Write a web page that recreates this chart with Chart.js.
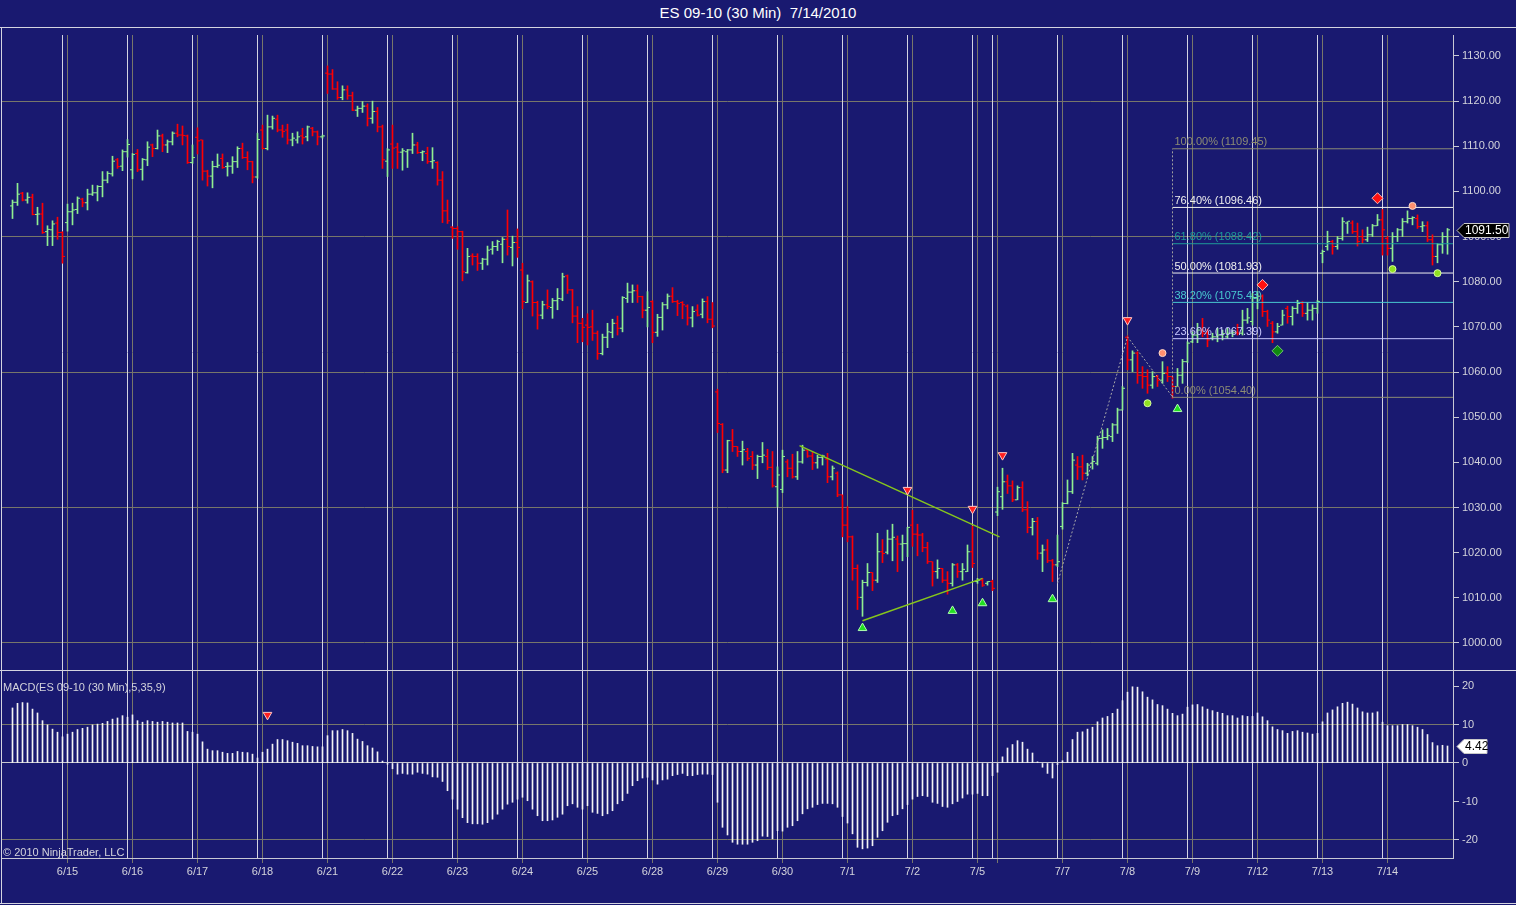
<!DOCTYPE html>
<html>
<head>
<meta charset="utf-8">
<title>ES 09-10 (30 Min) 7/14/2010</title>
<script src="https://cdn.jsdelivr.net/npm/chart.js@4.4.1/dist/chart.umd.min.js"></script>
<style>
  html, body { margin: 0; padding: 0; background: #191970; }
  #frame { position: relative; width: 1516px; height: 905px; background: #191970; overflow: hidden;
           font-family: "Liberation Sans", Arial, sans-serif; }
  #title { position: absolute; left: 0; top: 0; width: 1516px; height: 27px; line-height: 26px;
           text-align: center; color: #ffffff; font-size: 15px; white-space: pre; }
  .hline { position: absolute; left: 0; width: 1516px; height: 1px; background: #d4d4e0; }
  .vline { position: absolute; top: 27px; left: 1px; width: 1px; height: 877px; background: #d4d4e0; }
  #price { position: absolute; left: 0; top: 28px; }
  #macd { position: absolute; left: 0; top: 671px; }
  .note { position: absolute; left: 3px; color: #d4d4dc; font-size: 11px; white-space: pre; }
</style>
</head>
<body>
<div id="frame">
  <div id="title">ES 09-10 (30 Min)  7/14/2010</div>
  <div class="hline" style="top:27px"></div>
  <canvas id="price" width="1516" height="642"></canvas>
  <div class="hline" style="top:670px"></div>
  <canvas id="macd" width="1516" height="231"></canvas>
  <div class="hline" style="top:903px"></div>
  <div class="vline"></div>
  <div class="note" style="top:681px">MACD(ES 09-10 (30 Min),5,35,9)</div>
  <div class="note" style="top:846px">© 2010 NinjaTrader, LLC</div>
</div>
<script>
// ---- data: 30 min bars, index 0 = first bar on screen ----
const dayStart = [11, 24, 37, 50, 63, 76, 89, 102, 115, 128, 141, 154, 167, 180, 193, 197, 210, 223, 236, 249, 262, 275];
const dayLabel = ['6/15', '6/16', '6/17', '6/18', '6/21', '6/22', '6/23', '6/24', '6/25', '6/28', '6/29',
                  '6/30', '7/1', '7/2', '7/5', '', '7/7', '7/8', '7/9', '7/12', '7/13', '7/14'];
const priceTicks = [1000, 1010, 1020, 1030, 1040, 1050, 1060, 1070, 1080, 1090, 1100, 1110, 1120, 1130];
const macdTicks = [-20, -10, 0, 10, 20];

const opens = [
  1096.8, 1097.6, 1099.6, 1098.1, 1098.7, 1094.9, 1095.0, 1091.1, 1091.5, 1093.0,
  1090.9, 1093.1, 1095.5, 1096.0, 1098.3, 1097.5, 1099.4, 1099.7, 1101.1, 1102.5,
  1103.9, 1107.0, 1105.6, 1108.8, 1104.8, 1108.4, 1104.9, 1107.0, 1110.3, 1109.5,
  1112.3, 1110.3, 1111.0, 1112.9, 1112.5, 1112.3, 1106.4, 1112.0, 1111.4, 1104.5,
  1103.4, 1105.5, 1107.3, 1105.5, 1105.6, 1106.6, 1109.5, 1107.5, 1106.6, 1103.2,
  1113.6, 1109.5, 1114.3, 1116.0, 1113.6, 1113.6, 1111.4, 1111.4, 1112.3, 1112.1,
  1114.0, 1113.2, 1112.1, 1126.2, 1126.0, 1122.7, 1120.8, 1122.5, 1121.2, 1118.0,
  1118.4, 1118.9, 1116.2, 1117.7, 1114.3, 1106.7, 1110.5, 1109.8, 1108.7, 1108.8,
  1109.2, 1110.3, 1108.6, 1108.4, 1106.6, 1106.4, 1102.5, 1095.7, 1092.1, 1091.8,
  1091.1, 1082.0, 1085.7, 1085.6, 1084.1, 1085.0, 1087.2, 1087.8, 1088.3, 1089.4,
  1087.6, 1088.7, 1082.6, 1075.4, 1080.0, 1075.4, 1072.6, 1074.9, 1074.3, 1075.8,
  1076.2, 1081.3, 1078.2, 1072.4, 1070.8, 1070.4, 1070.0, 1068.6, 1064.1, 1067.7,
  1068.8, 1070.8, 1069.7, 1076.3, 1077.7, 1078.0, 1076.7, 1073.7, 1075.6, 1068.8,
  1072.1, 1074.9, 1076.8, 1075.6, 1075.4, 1074.6, 1072.0, 1073.7, 1072.8, 1075.6,
  1071.7, 1055.6, 1048.4, 1038.3, 1044.8, 1043.5, 1042.4, 1042.4, 1041.3, 1039.4,
  1041.3, 1041.3, 1038.9, 1034.6, 1034.0, 1040.1, 1038.7, 1036.8, 1040.1, 1042.7,
  1041.4, 1039.9, 1041.1, 1040.7, 1036.8, 1037.6, 1032.8, 1026.1, 1023.5, 1016.5,
  1010.1, 1013.4, 1015.6, 1013.9, 1020.2, 1020.1, 1023.0, 1023.0, 1021.9, 1022.0,
  1026.1, 1024.1, 1023.9, 1021.1, 1018.0, 1015.8, 1016.5, 1013.9, 1013.2, 1017.3,
  1015.8, 1015.8, 1020.2, 1013.6, 1013.9, 1013.2, 1013.6, 1029.0, 1032.4, 1035.7,
  1034.8, 1031.7, 1034.4, 1029.5, 1025.6, 1026.9, 1019.9, 1020.6, 1018.2, 1017.3,
  1025.8, 1030.9, 1033.5, 1039.4, 1039.0, 1037.6, 1039.8, 1039.8, 1045.3, 1045.5,
  1045.7, 1048.3, 1051.6, 1067.7, 1062.7, 1064.2, 1059.3, 1059.0, 1057.1, 1059.0,
  1058.2, 1059.7, 1059.0, 1056.8, 1059.3, 1062.3, 1066.7, 1068.2, 1069.3, 1068.6,
  1067.5, 1067.8, 1068.2, 1067.8, 1068.6, 1068.7, 1068.6, 1071.5, 1071.2, 1076.5,
  1076.8, 1073.4, 1070.8, 1068.9, 1070.4, 1074.1, 1072.3, 1074.1, 1075.2, 1073.0,
  1073.7, 1074.1, 1086.3, 1087.8, 1088.9, 1087.8, 1089.6, 1093.0, 1093.0, 1091.1,
  1090.0, 1089.3, 1090.4, 1092.4, 1093.7, 1089.6, 1087.4, 1090.0, 1091.5, 1093.3,
  1094.0, 1094.0, 1092.2, 1092.4, 1089.3, 1085.6, 1088.2, 1090.0
];
const highs = [
  1098.1, 1101.8, 1099.8, 1099.7, 1099.4, 1096.5, 1097.4, 1092.4, 1093.5, 1094.3,
  1091.1, 1097.2, 1097.4, 1098.8, 1098.5, 1100.5, 1101.4, 1101.3, 1104.4, 1104.4,
  1107.8, 1107.3, 1109.2, 1111.5, 1108.4, 1109.3, 1107.3, 1111.0, 1110.5, 1113.6,
  1112.7, 1111.4, 1113.2, 1114.9, 1114.5, 1112.5, 1110.3, 1114.1, 1111.4, 1104.7,
  1106.7, 1108.3, 1108.3, 1106.4, 1107.7, 1109.9, 1110.7, 1108.8, 1106.7, 1112.9,
  1114.7, 1116.9, 1116.7, 1116.9, 1114.7, 1114.9, 1112.9, 1113.2, 1114.0, 1114.5,
  1114.2, 1113.4, 1112.5, 1127.8, 1127.0, 1124.3, 1123.4, 1123.4, 1122.0, 1118.9,
  1119.9, 1119.4, 1120.0, 1118.6, 1114.7, 1109.5, 1114.7, 1110.7, 1109.5, 1109.3,
  1112.9, 1110.9, 1109.0, 1109.8, 1109.7, 1106.6, 1104.4, 1098.1, 1092.2, 1092.2,
  1091.2, 1087.4, 1086.2, 1086.2, 1085.2, 1087.9, 1088.9, 1089.2, 1089.8, 1095.9,
  1090.1, 1091.7, 1084.1, 1081.5, 1080.2, 1075.7, 1075.7, 1078.2, 1076.3, 1078.5,
  1081.9, 1081.5, 1078.3, 1074.5, 1071.9, 1072.9, 1073.7, 1069.1, 1068.4, 1070.8,
  1071.7, 1072.4, 1076.7, 1079.7, 1079.3, 1079.3, 1076.8, 1077.8, 1075.8, 1072.8,
  1075.4, 1077.3, 1078.7, 1075.9, 1075.6, 1074.9, 1074.5, 1074.9, 1076.2, 1076.7,
  1075.4, 1056.2, 1048.6, 1044.9, 1047.3, 1043.5, 1044.7, 1043.1, 1042.4, 1041.6,
  1044.4, 1042.9, 1042.4, 1039.0, 1042.7, 1040.6, 1041.8, 1042.4, 1043.8, 1042.7,
  1042.4, 1041.6, 1041.6, 1042.0, 1039.2, 1037.9, 1032.8, 1030.2, 1023.7, 1017.3,
  1013.9, 1017.6, 1015.6, 1024.3, 1022.9, 1025.0, 1026.3, 1023.7, 1023.9, 1025.6,
  1029.4, 1026.3, 1024.3, 1022.3, 1018.0, 1018.4, 1016.5, 1015.8, 1017.6, 1017.6,
  1017.6, 1021.7, 1025.9, 1014.3, 1014.3, 1013.6, 1013.9, 1034.5, 1038.7, 1037.2,
  1035.9, 1034.8, 1035.7, 1031.3, 1027.6, 1027.8, 1021.7, 1022.9, 1018.5, 1023.9,
  1031.1, 1036.1, 1042.0, 1041.3, 1041.6, 1039.8, 1041.3, 1045.8, 1047.2, 1047.5,
  1048.6, 1052.0, 1056.8, 1068.0, 1064.7, 1064.5, 1061.2, 1060.5, 1060.1, 1059.3,
  1062.3, 1061.2, 1059.0, 1060.8, 1062.8, 1066.7, 1068.9, 1070.8, 1071.9, 1069.5,
  1068.6, 1069.7, 1069.3, 1069.7, 1069.3, 1070.6, 1073.7, 1074.1, 1077.4, 1077.8,
  1077.1, 1073.7, 1071.2, 1070.8, 1073.7, 1074.6, 1074.5, 1075.9, 1075.6, 1075.4,
  1074.9, 1075.9, 1087.0, 1091.2, 1089.2, 1090.0, 1094.2, 1093.3, 1093.5, 1093.0,
  1091.5, 1092.1, 1092.7, 1094.9, 1096.0, 1090.0, 1090.9, 1091.8, 1094.0, 1095.7,
  1094.4, 1094.8, 1093.3, 1093.3, 1090.4, 1088.5, 1090.9, 1091.8
];
const lows = [
  1094.0, 1096.9, 1097.9, 1097.4, 1094.8, 1092.6, 1090.7, 1088.0, 1088.0, 1089.4,
  1084.1, 1091.2, 1092.6, 1095.1, 1096.6, 1095.9, 1099.1, 1097.9, 1098.8, 1101.9,
  1103.4, 1105.1, 1104.6, 1107.6, 1102.8, 1104.4, 1102.5, 1105.7, 1107.7, 1109.4,
  1108.8, 1108.6, 1110.3, 1112.1, 1110.3, 1106.2, 1106.2, 1108.3, 1102.5, 1101.2,
  1100.8, 1105.3, 1105.1, 1103.4, 1104.0, 1105.3, 1107.3, 1104.8, 1101.9, 1102.9,
  1109.4, 1109.2, 1113.8, 1113.2, 1112.0, 1110.5, 1110.1, 1110.7, 1110.5, 1111.2,
  1112.3, 1110.3, 1111.8, 1121.7, 1122.6, 1120.4, 1120.3, 1120.4, 1117.9, 1116.6,
  1117.5, 1114.5, 1115.1, 1113.2, 1105.1, 1103.3, 1105.1, 1105.1, 1104.7, 1105.3,
  1108.4, 1108.4, 1106.8, 1106.2, 1105.1, 1101.4, 1093.1, 1092.9, 1089.6, 1087.2,
  1080.2, 1081.9, 1083.7, 1082.5, 1082.7, 1083.7, 1086.1, 1086.9, 1084.2, 1085.9,
  1083.5, 1085.4, 1074.0, 1075.4, 1072.4, 1069.5, 1071.8, 1074.0, 1071.9, 1073.8,
  1075.8, 1077.4, 1070.9, 1066.5, 1066.7, 1066.0, 1067.0, 1062.8, 1063.8, 1065.4,
  1067.6, 1068.2, 1068.9, 1075.4, 1075.4, 1075.4, 1072.0, 1070.0, 1066.5, 1067.9,
  1069.3, 1074.0, 1075.4, 1072.5, 1071.8, 1070.4, 1070.0, 1072.4, 1072.0, 1070.9,
  1069.8, 1046.6, 1037.7, 1037.7, 1042.4, 1041.3, 1039.4, 1040.4, 1038.4, 1036.4,
  1039.9, 1038.4, 1034.5, 1030.2, 1033.3, 1036.8, 1036.5, 1036.2, 1039.8, 1041.1,
  1038.4, 1038.7, 1039.4, 1035.5, 1036.1, 1032.4, 1023.5, 1022.4, 1013.9, 1007.4,
  1005.9, 1012.6, 1011.6, 1013.4, 1017.8, 1019.7, 1018.2, 1015.8, 1018.2, 1019.1,
  1021.4, 1019.3, 1020.2, 1017.6, 1012.6, 1014.3, 1013.4, 1010.8, 1012.6, 1014.5,
  1013.9, 1015.8, 1016.7, 1013.2, 1012.5, 1012.8, 1011.6, 1028.2, 1029.6, 1033.1,
  1031.3, 1031.7, 1029.1, 1024.4, 1023.9, 1018.5, 1015.8, 1017.8, 1013.6, 1016.9,
  1025.2, 1030.8, 1033.1, 1036.2, 1036.1, 1037.0, 1038.5, 1039.4, 1043.1, 1045.0,
  1044.6, 1046.4, 1051.6, 1060.5, 1060.1, 1057.5, 1056.4, 1055.3, 1056.4, 1056.8,
  1057.5, 1057.9, 1054.2, 1056.8, 1057.5, 1062.1, 1066.5, 1066.5, 1067.8, 1065.6,
  1067.1, 1066.7, 1067.1, 1067.5, 1067.8, 1068.2, 1068.2, 1070.8, 1070.4, 1074.0,
  1072.3, 1070.1, 1066.5, 1068.6, 1070.4, 1070.8, 1070.4, 1073.0, 1072.3, 1071.5,
  1071.5, 1073.0, 1084.2, 1087.0, 1086.1, 1087.2, 1089.2, 1090.7, 1090.7, 1087.9,
  1088.5, 1088.9, 1090.0, 1092.4, 1085.9, 1085.9, 1084.5, 1088.9, 1090.0, 1093.0,
  1092.6, 1091.8, 1091.1, 1088.9, 1083.7, 1084.2, 1086.3, 1086.1
];
const closes = [
  1097.6, 1099.4, 1098.1, 1098.7, 1094.9, 1095.0, 1090.9, 1091.6, 1092.8, 1090.9,
  1085.6, 1095.5, 1095.9, 1098.5, 1097.5, 1099.4, 1099.7, 1101.1, 1102.5, 1104.0,
  1106.7, 1105.5, 1108.8, 1110.4, 1108.2, 1104.8, 1107.1, 1109.8, 1109.5, 1112.3,
  1110.3, 1111.0, 1112.9, 1112.5, 1112.4, 1106.4, 1107.5, 1111.2, 1104.5, 1103.4,
  1105.5, 1105.8, 1105.3, 1105.6, 1106.6, 1109.5, 1107.5, 1106.6, 1103.2, 1111.5,
  1109.5, 1114.3, 1116.2, 1113.6, 1113.3, 1111.4, 1111.8, 1112.1, 1111.9, 1114.3,
  1113.2, 1112.1, 1112.3, 1126.0, 1122.7, 1120.8, 1122.5, 1121.2, 1118.0, 1118.4,
  1118.9, 1116.2, 1117.7, 1114.3, 1107.0, 1109.2, 1109.6, 1108.7, 1109.0, 1109.2,
  1110.3, 1108.6, 1108.8, 1106.6, 1106.8, 1102.5, 1095.7, 1093.5, 1091.8, 1091.1,
  1082.2, 1085.6, 1085.6, 1084.1, 1085.0, 1087.0, 1087.8, 1088.9, 1089.4, 1087.8,
  1088.7, 1087.6, 1075.6, 1080.2, 1075.4, 1072.6, 1074.9, 1074.5, 1075.8, 1076.3,
  1081.1, 1078.2, 1072.4, 1070.8, 1069.9, 1069.9, 1068.6, 1064.1, 1067.7, 1068.9,
  1070.8, 1069.7, 1076.5, 1077.7, 1078.0, 1076.7, 1073.7, 1074.3, 1068.8, 1072.1,
  1074.9, 1076.8, 1075.6, 1075.2, 1074.9, 1072.0, 1073.4, 1072.6, 1075.6, 1071.7,
  1070.2, 1048.6, 1038.3, 1044.8, 1043.5, 1042.4, 1042.8, 1040.9, 1039.4, 1041.3,
  1041.6, 1038.9, 1034.8, 1037.2, 1041.3, 1038.7, 1036.8, 1040.1, 1042.7, 1041.4,
  1039.9, 1041.1, 1041.4, 1036.8, 1038.7, 1032.8, 1026.1, 1023.5, 1016.5, 1010.1,
  1013.4, 1015.6, 1013.9, 1020.2, 1019.8, 1023.0, 1023.4, 1021.9, 1022.0, 1025.6,
  1024.1, 1023.9, 1021.1, 1018.0, 1015.8, 1016.5, 1013.9, 1013.2, 1017.3, 1015.8,
  1016.3, 1020.2, 1017.6, 1013.9, 1012.8, 1013.6, 1012.1, 1033.5, 1035.7, 1034.8,
  1031.7, 1034.4, 1029.5, 1025.6, 1026.9, 1019.9, 1020.6, 1018.2, 1017.3, 1018.0,
  1030.9, 1033.5, 1040.5, 1039.0, 1037.6, 1039.4, 1040.2, 1045.3, 1045.5, 1045.9,
  1048.3, 1051.6, 1056.4, 1062.7, 1064.2, 1059.3, 1059.0, 1057.1, 1059.0, 1058.2,
  1059.7, 1059.0, 1056.8, 1059.3, 1062.3, 1066.4, 1068.2, 1069.3, 1068.6, 1067.1,
  1067.8, 1068.2, 1068.5, 1068.6, 1068.7, 1068.6, 1071.5, 1072.0, 1076.5, 1076.8,
  1073.4, 1071.5, 1068.9, 1070.1, 1072.6, 1072.3, 1074.1, 1075.2, 1073.0, 1073.7,
  1074.1, 1075.6, 1086.7, 1088.9, 1087.8, 1089.6, 1093.3, 1093.4, 1091.1, 1088.9,
  1089.3, 1090.4, 1092.4, 1093.7, 1091.5, 1087.4, 1090.0, 1091.5, 1093.3, 1094.0,
  1094.2, 1092.2, 1092.4, 1089.3, 1085.6, 1088.2, 1090.0, 1091.5
];
const macd = [
  14.3, 15.5, 15.7, 15.6, 14.0, 13.0, 11.0, 9.9, 8.8, 8.0,
  6.8, 7.5, 8.0, 8.7, 9.0, 9.3, 9.9, 10.1, 10.3, 10.8,
  11.4, 11.7, 12.3, 11.9, 12.5, 11.0, 10.6, 11.0, 10.8, 10.6,
  10.8, 10.6, 10.4, 10.4, 10.4, 8.2, 8.0, 7.5, 5.5, 3.6,
  3.2, 3.2, 2.8, 2.5, 2.5, 3.0, 2.8, 2.7, 2.3, 1.3,
  2.8, 3.6, 4.9, 6.1, 6.1, 5.8, 5.4, 5.1, 4.5, 4.5,
  4.3, 4.2, 4.2, 7.1, 8.4, 8.4, 8.7, 8.4, 7.7, 6.2,
  5.6, 4.5, 3.9, 2.9, 0.5, -0.3, -1.5, -2.9, -2.7, -2.9,
  -2.9, -2.4, -2.7, -2.9, -3.6, -3.7, -4.8, -7.2, -9.4, -12.0,
  -14.2, -15.5, -15.8, -15.8, -15.9, -15.5, -14.6, -13.3, -12.0, -10.7,
  -10.2, -9.4, -8.9, -9.8, -12.0, -13.7, -15.0, -15.0, -14.8, -14.1,
  -13.3, -11.1, -10.6, -11.5, -12.0, -11.1, -12.8, -13.1, -13.7, -13.2,
  -12.4, -10.6, -9.8, -7.9, -5.9, -4.6, -3.9, -3.7, -4.4, -5.5,
  -4.4, -4.2, -3.3, -3.0, -2.7, -3.3, -3.3, -3.0, -2.9, -2.9,
  -3.0, -10.2, -16.7, -18.7, -20.6, -21.1, -21.1, -21.1, -20.6, -20.2,
  -19.0, -19.1, -19.7, -17.6, -17.7, -16.7, -16.3, -15.0, -13.2, -11.9,
  -11.5, -10.8, -10.5, -10.5, -10.6, -11.5, -13.9, -15.6, -18.4, -21.9,
  -22.3, -22.1, -21.5, -19.3, -17.6, -15.4, -13.7, -13.4, -11.9, -10.8,
  -9.4, -8.7, -8.5, -8.7, -10.2, -10.5, -11.3, -11.5, -10.6, -10.0,
  -9.1, -8.1, -8.1, -7.9, -8.5, -8.5, -3.3, -2.4, 1.6, 3.9,
  4.8, 5.8, 5.4, 3.6, 2.6, 0.3, -1.1, -2.7, -3.9, -0.4,
  0.6, 2.8, 6.1, 8.0, 8.1, 8.8, 9.3, 10.7, 11.7, 12.1,
  12.9, 14.0, 16.2, 18.4, 19.8, 19.7, 18.5, 17.1, 16.4, 15.2,
  14.9, 14.0, 12.9, 12.3, 12.7, 14.5, 15.1, 15.2, 14.6, 14.0,
  13.6, 13.2, 12.9, 12.3, 12.3, 11.7, 12.3, 12.1, 12.1, 13.0,
  12.0, 11.0, 9.4, 8.7, 8.4, 7.7, 8.2, 8.4, 8.0, 7.8,
  7.5, 7.7, 10.7, 13.0, 13.8, 14.6, 15.5, 15.8, 15.3, 14.3,
  13.3, 13.0, 13.0, 13.3, 10.6, 9.7, 9.7, 9.7, 10.0, 10.0,
  9.7, 9.3, 8.7, 7.4, 5.3, 4.5, 4.6, 4.42
];

// fibonacci retracement drawn from the 7/8 swing
const fibStart = 232;
const fibPct = [100, 76.4, 61.8, 50, 38.2, 23.6, 0];
const fibVal = [1109.45, 1096.46, 1088.42, 1081.93, 1075.43, 1067.39, 1054.40];

// drawn objects: {x: bar index, y: price}
const sigDown = [{ x: 179, y: 1033.9 }, { x: 192, y: 1029.7 }, { x: 198, y: 1041.6 }, { x: 223, y: 1071.5 }];
const sigUp = [{ x: 170, y: 1003.3 }, { x: 188, y: 1007.1 }, { x: 194, y: 1008.8 }, { x: 208, y: 1009.7 }, { x: 233, y: 1051.8 }];
const redDiamonds = [{ x: 250, y: 1079.3 }, { x: 273, y: 1098.5 }];
const greenDiamonds = [{ x: 253, y: 1064.7 }];
const salmonDots = [{ x: 230, y: 1064.2 }, { x: 280, y: 1096.8 }];
const limeDots = [{ x: 227, y: 1053.1 }, { x: 276, y: 1082.8 }, { x: 285, y: 1081.9 }];
const trendUpper = [{ x: 157.4, y: 1043.7 }, { x: 197.4, y: 1023.5 }];
const trendLower = [{ x: 170, y: 1004.9 }, { x: 194, y: 1014.3 }];
const zigzag = [{ x: 209, y: 1013.2 }, { x: 223, y: 1067.8 }, { x: 232, y: 1054.5 }];
const macdDown = [{ x: 51, y: 12.5 }];

// ---- styles ----
const GRID = '#77766a';
const SESSION = '#d4d4e2';
const AXIS = '#c8c8d4';
const TXT = '#d4d4dc';
const UP = '#90ee90';
const DOWN = '#ff0000';
const FONT = { family: '"Liberation Sans", Arial, sans-serif', size: 11 };
const fibColors = ['#8c8c74', '#f0f0f0', '#1e9a9a', '#f0f0f0', '#48c8d0', '#c8c8ff', '#8c8c74'];
const X_MIN = -2.1, X_MAX = 288.1;

const barColors = closes.map((c, i) => c >= opens[i] ? UP : DOWN);

// drop the label padding chart.js asks for, so the plot fills the panel
const noPad = s => { s.width = 63; s.paddingTop = 0; s.paddingBottom = 0; };

const sessionLines = {
  id: 'sessionLines',
  beforeDatasetsDraw(chart) {
    const { ctx, chartArea, scales } = chart;
    ctx.save();
    ctx.strokeStyle = SESSION;
    ctx.lineWidth = 1;
    ctx.beginPath();
    dayStart.forEach(s => {
      const px = Math.round(scales.x.getPixelForValue(s - 1) - 0.5) + 0.5;
      ctx.moveTo(px, chartArea.top);
      ctx.lineTo(px, chartArea.bottom);
    });
    ctx.stroke();
    ctx.restore();
  }
};

const fibLabels = {
  id: 'fibLabels',
  afterDatasetsDraw(chart) {
    const { ctx, scales } = chart;
    ctx.save();
    ctx.font = '11px "Liberation Sans", Arial, sans-serif';
    ctx.textBaseline = 'bottom';
    const px = scales.x.getPixelForValue(fibStart) + 2;
    fibPct.forEach((p, i) => {
      ctx.fillStyle = fibColors[i];
      ctx.fillText(p.toFixed(2) + '% (' + fibVal[i].toFixed(2) + ')', px, scales.y.getPixelForValue(fibVal[i]) - 1);
    });
    ctx.restore();
  }
};

const lastTag = {
  id: 'lastTag',
  afterDraw(chart, args, o) {
    const { ctx, chartArea, scales } = chart;
    const py = Math.round(scales.y.getPixelForValue(o.value)) + 0.5;
    const x0 = chartArea.right + 4;
    ctx.save();
    ctx.beginPath();
    ctx.moveTo(x0, py);
    ctx.lineTo(x0 + 7, py - 7);
    ctx.lineTo(x0 + o.w, py - 7);
    ctx.lineTo(x0 + o.w, py + 7);
    ctx.lineTo(x0 + 7, py + 7);
    ctx.closePath();
    ctx.fillStyle = o.bg;
    ctx.fill();
    ctx.strokeStyle = o.edge;
    ctx.lineWidth = 1;
    ctx.stroke();
    ctx.fillStyle = o.fg;
    ctx.font = '12px "Liberation Sans", Arial, sans-serif';
    ctx.textBaseline = 'middle';
    ctx.fillText(o.value.toFixed(2), x0 + 8, py + 0.5);
    ctx.restore();
  }
};

function marker(data, style, fill, edge, r, rot) {
  return {
    type: 'scatter', data, order: 0,
    pointStyle: style, pointRadius: r, pointRotation: rot || 0,
    pointBackgroundColor: fill, pointBorderColor: edge, pointBorderWidth: 1
  };
}
function segment(data, color, width, dash) {
  return {
    type: 'line', data, order: 1,
    borderColor: color, borderWidth: width, borderDash: dash || [],
    pointRadius: 0, tension: 0, fill: false
  };
}

const xGridOnly = {
  type: 'linear', min: X_MIN, max: X_MAX, offset: false,
  grid: { offset: false, color: GRID, drawTicks: false },
  border: { display: false },
  ticks: { display: false },
  afterBuildTicks: s => { s.ticks = dayStart.map(v => ({ value: v })); },
  afterFit: s => { s.height = 0; }
};

const priceSets = [
  marker(sigDown, 'triangle', '#ff2020', '#ffc8c8', 5, 180),
  marker(sigUp, 'triangle', '#22e022', '#b0ffb0', 5, 0),
  marker(redDiamonds, 'rectRot', '#ff1010', '#ffb8b8', 5.5, 0),
  marker(greenDiamonds, 'rectRot', '#108a10', '#70c870', 5.5, 0),
  marker(salmonDots, 'circle', '#ff9070', '#ffd8c8', 3.5, 0),
  marker(limeDots, 'circle', '#90e020', '#d8ffa0', 3.5, 0),
  segment(trendUpper, '#86c61c', 1.5),
  segment(trendLower, '#86c61c', 1.5),
  segment(zigzag, '#a8a8a8', 1, [2, 2]),
  segment([{ x: fibStart, y: fibVal[6] }, { x: fibStart, y: fibVal[0] }], '#a0a0a0', 1, [2, 2])
];
fibVal.forEach((v, i) => {
  const s = segment([{ x: fibStart, y: v }, { x: X_MAX, y: v }], fibColors[i], 1);
  s.order = 2;
  priceSets.push(s);
});
priceSets.push({
  type: 'scatter', order: 3, data: opens.map((v, i) => ({ x: i - 0.3, y: v })),
  pointStyle: 'line', pointRadius: 1, pointBorderWidth: 1, pointBorderColor: barColors
});
priceSets.push({
  type: 'scatter', order: 3, data: closes.map((v, i) => ({ x: i + 0.3, y: v })),
  pointStyle: 'line', pointRadius: 1, pointBorderWidth: 1, pointBorderColor: barColors
});
priceSets.push({
  type: 'bar', order: 4, data: highs.map((h, i) => ({ x: i, y: [lows[i], h] })),
  backgroundColor: barColors, borderWidth: 0, barThickness: 1
});

new Chart(document.getElementById('price'), {
  type: 'bar',
  data: { datasets: priceSets },
  options: {
    responsive: false, animation: false, devicePixelRatio: 1,
    layout: { autoPadding: false, padding: { left: 2, top: 7, right: 0, bottom: 0 } },
    plugins: {
      legend: { display: false }, tooltip: { enabled: false },
      lastTag: { value: closes[closes.length - 1], w: 52, bg: '#000000', fg: '#ffffff', edge: '#c8c8c8' }
    },
    scales: {
      x: xGridOnly,
      y: {
        position: 'right', min: 994.01, max: 1134.65,
        afterBuildTicks: s => { s.ticks = priceTicks.map(v => ({ value: v })); },
        afterFit: noPad,
        grid: {
          color: c => (c.tick && (c.tick.value - 1000) % 30 === 0) ? GRID : 'rgba(0,0,0,0)',
          tickColor: AXIS, tickLength: 6
        },
        border: { color: AXIS },
        ticks: { color: TXT, font: FONT, padding: 3, callback: v => Number(v).toFixed(2) }
      }
    }
  },
  plugins: [sessionLines, fibLabels, lastTag]
});

new Chart(document.getElementById('macd'), {
  type: 'bar',
  data: {
    datasets: [
      marker(macdDown, 'triangle', '#ff2020', '#ffc8c8', 5, 180),
      {
        type: 'bar', order: 4, data: macd.map((v, i) => ({ x: i, y: v })),
        backgroundColor: '#f4f4f4', borderWidth: 0, barThickness: 1
      }
    ]
  },
  options: {
    responsive: false, animation: false, devicePixelRatio: 1,
    layout: { autoPadding: false, padding: { left: 2, top: 0, right: 0, bottom: 0 } },
    plugins: {
      legend: { display: false }, tooltip: { enabled: false },
      lastTag: { value: macd[macd.length - 1], w: 30, bg: '#ffffff', fg: '#000000', edge: '#c8c8c8' }
    },
    scales: {
      x: {
        type: 'linear', min: X_MIN, max: X_MAX, offset: false,
        grid: { offset: false, color: GRID, tickColor: GRID, tickLength: 5 },
        border: { display: true, color: AXIS },
        afterBuildTicks: s => { s.ticks = dayStart.map(v => ({ value: v })); },
        afterFit: s => { s.height = 44; },
        ticks: {
          color: TXT, font: FONT, padding: 2, autoSkip: false, maxRotation: 0,
          callback: (v, i) => dayLabel[i]
        }
      },
      y: {
        position: 'right', min: -24.68, max: 23.9,
        afterBuildTicks: s => { s.ticks = macdTicks.map(v => ({ value: v })); },
        afterFit: noPad,
        grid: {
          color: c => {
            if (!c.tick) return 'rgba(0,0,0,0)';
            if (c.tick.value === 0) return '#c8c8d0';
            return (c.tick.value + 20) % 30 === 0 ? GRID : 'rgba(0,0,0,0)';
          },
          tickColor: AXIS, tickLength: 6
        },
        border: { color: AXIS },
        ticks: { color: TXT, font: FONT, padding: 3, callback: v => String(v) }
      }
    }
  },
  plugins: [sessionLines, lastTag]
});
</script>
</body>
</html>
